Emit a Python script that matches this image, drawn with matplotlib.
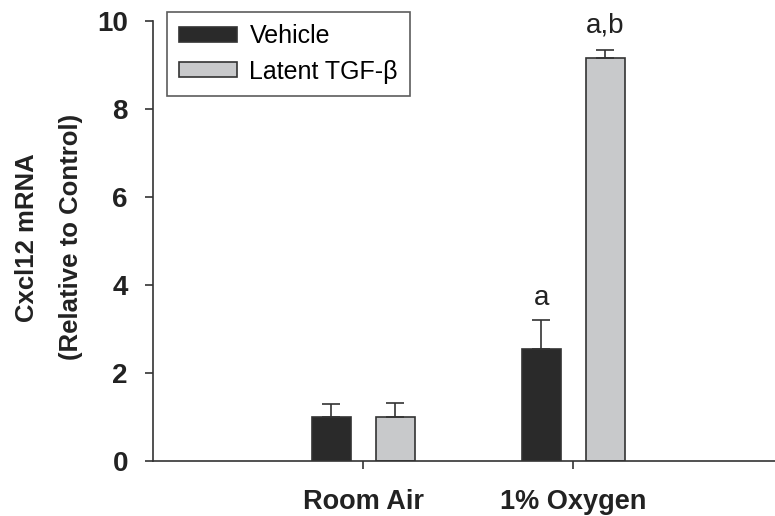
import numpy as np
import matplotlib.pyplot as plt

plt.rcParams['font.family'] = ['Liberation Sans', 'DejaVu Sans']

## Daten
groups = ["Room Air", "1% Oxygen"]
vehicle = [1.0, 2.55]
vehicle_err = [0.30, 0.65]
latent = [1.0, 9.15]
latent_err = [0.31, 0.19]
labels_vehicle = ["", "a"]
labels_latent = ["", "a,b"]

x = np.array([1, 2])
w = 0.186
off = 0.152

fig = plt.figure(figsize=(7.75, 5.16), dpi=100)
ax = fig.add_axes([0.1974, 0.1066, 0.8026, 0.8527])

ax.bar(x - off, vehicle, w, color="#2a2a2a", edgecolor="#333333", linewidth=1.2,
       label="Vehicle")
ax.bar(x + off, latent, w, color="#c8c9cb", edgecolor="#333333", linewidth=1.2,
       label="Latent TGF-β")
ax.errorbar(x - off, vehicle, yerr=[np.zeros(2), vehicle_err], fmt="none",
            ecolor="#333333", elinewidth=1.2, capsize=6.5, capthick=1.2)
ax.errorbar(x + off, latent, yerr=[np.zeros(2), latent_err], fmt="none",
            ecolor="#333333", elinewidth=1.2, capsize=6.5, capthick=1.2)

## Buchstaben ueber den Balken
for i in range(2):
    if labels_vehicle[i]:
        ax.text(x[i] - off, vehicle[i] + vehicle_err[i] + 0.2, labels_vehicle[i],
                ha="center", va="bottom", fontsize=20, color="#222222")
    if labels_latent[i]:
        ax.text(x[i] + off, latent[i] + latent_err[i] + 0.27, labels_latent[i],
                ha="center", va="bottom", fontsize=20, color="#222222")

ax.set_xlim(0, 2.96)
ax.set_ylim(0, 10)
ax.set_xticks(x)
ax.set_xticklabels(groups, fontsize=19.5, fontweight="bold")
ax.set_yticks([0, 2, 4, 6, 8, 10])
ax.set_yticklabels(["0", "2", "4", "6", "8", "10"], fontsize=20, fontweight="bold")
ax.tick_params(axis="x", length=6, width=1.2, pad=14, colors="#333333",
               labelcolor="#222222")
ax.tick_params(axis="y", length=6, width=1.2, pad=12, colors="#333333",
               labelcolor="#222222")

for s in ["top", "right"]:
    ax.spines[s].set_visible(False)
for s in ["left", "bottom"]:
    ax.spines[s].set_linewidth(1.2)
    ax.spines[s].set_color("#333333")

## y-Beschriftung in zwei Zeilen
fig.text(0.035, 0.54, "Cxcl12 mRNA", rotation=90, ha="center", va="center",
         fontsize=18.5, fontweight="bold", color="#222222")
fig.text(0.092, 0.54, "(Relative to Control)", rotation=90, ha="center",
         va="center", fontsize=18.5, fontweight="bold", color="#222222")

leg = ax.legend(loc="upper left", bbox_to_anchor=(0.0225, 1.0205), fontsize=18,
                frameon=True, fancybox=False, edgecolor="#333333",
                handlelength=2.3, handleheight=0.55, borderpad=0.5,
                labelspacing=0.45, handletextpad=0.5, borderaxespad=0)
leg.get_frame().set_linewidth(1.2)

fig.savefig("out.png", dpi=100)
